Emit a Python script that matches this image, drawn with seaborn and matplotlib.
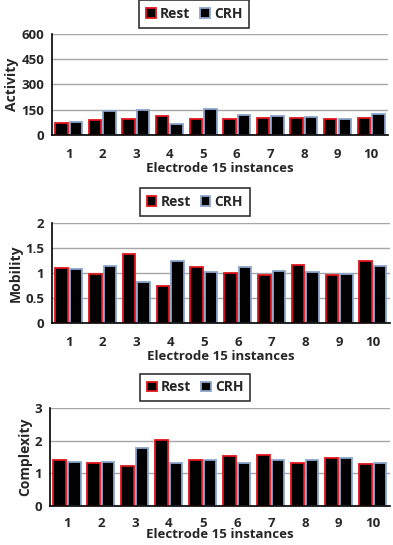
import matplotlib.pyplot as plt
import numpy as np
import pandas as pd
import seaborn as sns
from matplotlib.patches import Patch

instances = [str(i) for i in range(1, 11)]
groups = ["Rest", "CRH"]

activity_rest = [72, 88, 93, 112, 97, 97, 103, 103, 93, 103]
activity_crh = [78, 145, 148, 65, 152, 122, 112, 108, 95, 125]

mobility_rest = [1.10, 0.98, 1.37, 0.75, 1.12, 1.00, 0.96, 1.17, 0.97, 1.24]
mobility_crh = [1.08, 1.14, 0.83, 1.25, 1.03, 1.12, 1.04, 1.03, 0.98, 1.14]

complexity_rest = [1.42, 1.33, 1.22, 2.02, 1.40, 1.53, 1.57, 1.30, 1.47, 1.29]
complexity_crh = [1.35, 1.35, 1.78, 1.32, 1.42, 1.33, 1.41, 1.41, 1.48, 1.31]

sns.set_style("white")
plt.rcParams['font.family'] = ['Open Sans', 'DejaVu Sans']
plt.rcParams['font.weight'] = 'bold'

edge_colors = {"Rest": "#e3141c", "CRH": "#8aa6cc"}

panels = [
    ("Activity", activity_rest, activity_crh, [0, 150, 300, 450, 600], ["0", "150", "300", "450", "600"]),
    ("Mobility", mobility_rest, mobility_crh, [0, 0.5, 1, 1.5, 2], ["0", "0.5", "1", "1.5", "2"]),
    ("Complexity", complexity_rest, complexity_crh, [0, 1, 2, 3], ["0", "1", "2", "3"]),
]

fig = plt.figure(figsize=(3.93, 5.45), dpi=100)

axes_rects = [
    [0.132, 0.752, 0.855, 0.186],
    [0.132, 0.407, 0.860, 0.184],
    [0.127, 0.072, 0.865, 0.179],
]
# legend centres (figure fraction)
legend_centres = [(0.494, 0.975), (0.496, 0.629), (0.497, 0.289)]

for i, ((label, rest, crh, yt, ytl), rect, lc) in enumerate(zip(panels, axes_rects, legend_centres)):
    ax = fig.add_axes(rect)
    df = pd.DataFrame({
        "instance": instances * 2,
        "group": ["Rest"] * 10 + ["CRH"] * 10,
        "value": rest + crh,
    })
    sns.barplot(data=df, x="instance", y="value", hue="group", hue_order=groups,
                palette={"Rest": "black", "CRH": "black"}, width=0.86, gap=0.14,
                ax=ax, legend=False)
    for bars, g in zip(ax.containers, groups):
        for b in bars:
            b.set_edgecolor(edge_colors[g])
            b.set_linewidth(1.3)
    ax.set_xlim(-0.5, 9.5)
    ax.set_ylim(yt[0], yt[-1])
    ax.set_yticks(yt)
    ax.set_yticklabels(ytl)
    ax.yaxis.grid(True, color="#a6a6a6", linewidth=1.0)
    ax.set_axisbelow(True)
    for s in ["top", "right"]:
        ax.spines[s].set_visible(False)
    for s in ["left", "bottom"]:
        ax.spines[s].set_color("black")
        ax.spines[s].set_linewidth(1.2)
    ax.set_xticks(np.arange(-0.5, 10, 1), minor=True)
    ax.tick_params(axis="x", which="major", length=0, labelsize=9.5, pad=9 if i < 2 else 8)
    ax.tick_params(axis="x", which="minor", length=5, width=1.2, direction="out", color="black")
    ax.tick_params(axis="y", length=7, width=1.2, direction="inout", labelsize=9.5, color="black", pad=2)
    ax.set_xlabel("Electrode 15 instances", fontsize=9.5, fontweight="bold", labelpad=1 if i < 2 else -1)
    ax.set_ylabel(label, fontsize=10, fontweight="bold", labelpad=2)

    handles = [Patch(facecolor="black", edgecolor=edge_colors[g], linewidth=1.3, label=g) for g in groups]
    leg = fig.legend(handles=handles, loc="center", bbox_to_anchor=lc,
                     ncol=2, frameon=True, fancybox=False, edgecolor="black", fontsize=10,
                     handlelength=0.7, handleheight=0.7, handletextpad=0.3, columnspacing=0.7,
                     borderpad=0.5, borderaxespad=0)
    leg.get_frame().set_linewidth(1.2)
    for t in leg.get_texts():
        t.set_fontweight("bold")

fig.savefig("out.png", dpi=100)
